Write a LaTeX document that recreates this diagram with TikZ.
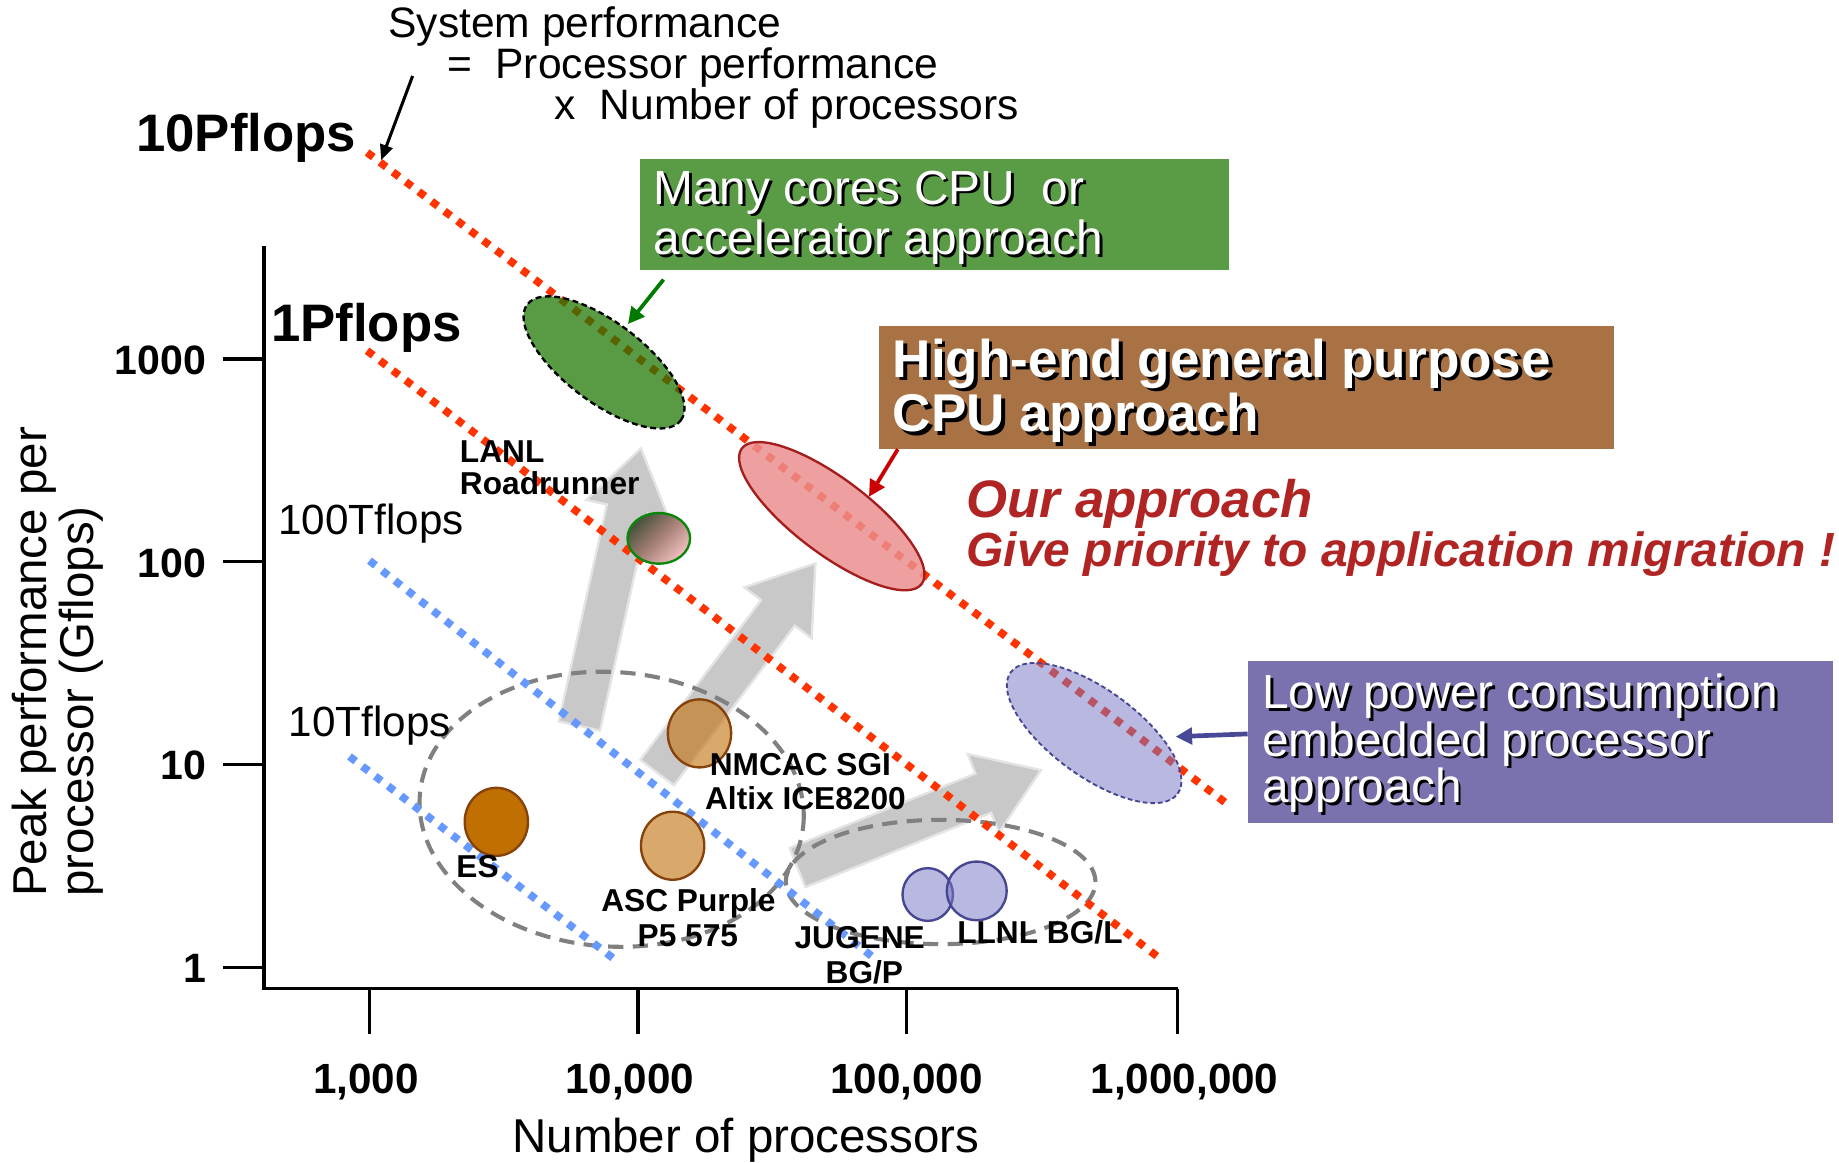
\documentclass[tikz,border=0pt]{standalone}
\usepackage{fontspec}
\setmainfont{Liberation Sans}
\usetikzlibrary{shapes.geometric,arrows.meta,calc}

\definecolor{flopred}{RGB}{255,51,0}
\definecolor{flopblue}{RGB}{102,153,255}
\definecolor{boxgreen}{RGB}{90,155,70}
\definecolor{boxbrown}{RGB}{168,114,68}
\definecolor{boxpurple}{RGB}{122,114,174}
\definecolor{ourred}{RGB}{176,36,36}
\definecolor{arrowgray}{RGB}{200,200,200}
\definecolor{arrowrim}{RGB}{228,228,228}
\definecolor{dashgray}{RGB}{128,128,128}
\definecolor{accgreen}{RGB}{28,118,0}
\definecolor{hpcpink}{RGB}{235,142,142}
\definecolor{hpcedge}{RGB}{165,30,30}
\definecolor{lowpurple}{RGB}{118,118,195}
\definecolor{lowedge}{RGB}{70,70,145}
\definecolor{esbrown}{RGB}{192,112,0}
\definecolor{tanfill}{RGB}{194,116,16}
\definecolor{rimbrown}{RGB}{135,65,10}
\definecolor{lanldark}{RGB}{70,80,58}
\definecolor{lanlmid}{RGB}{165,128,118}
\definecolor{lanlpink}{RGB}{242,192,192}
\definecolor{lanledge}{RGB}{10,135,10}
\definecolor{arrgreen}{RGB}{0,122,0}
\definecolor{arrred}{RGB}{204,0,0}
\definecolor{arrpurple}{RGB}{72,72,150}

\newcommand\fsz[1]{\fontsize{#1}{#1}\selectfont}
% white text with a dark drop shadow
\newcommand\shd[2][2.4pt]{\leavevmode\rlap{\kern#1\raisebox{-#1}{\color{black}#2}}#2}
% wide block arrow: name, start, tip
\newcommand\blockarrow[3]{%
  \coordinate (#1-neck) at ($(#3)!53pt!(#2)$);
  \path[fatarrow]
    ($(#2)!18pt!90:(#3)$) -- ($(#1-neck)!18pt!90:(#3)$) -- ($(#1-neck)!36pt!90:(#3)$)
    -- (#3)
    -- ($(#1-neck)!36pt!-90:(#3)$) -- ($(#1-neck)!18pt!-90:(#3)$) -- ($(#2)!18pt!-90:(#3)$)
    -- cycle;}

\begin{document}
\begin{tikzpicture}[x=1pt,y=-1pt,
  fatarrow/.style={fill=arrowgray, draw=arrowrim, line width=2pt},
  flopline/.style={line width=6.6pt, dash pattern=on 6.6pt off 7.2pt},
  group/.style={ellipse, draw=dashgray, line width=3.5pt, dash pattern=on 13pt off 8pt, inner sep=0pt},
  machine/.style={ellipse, inner sep=0pt, line width=2pt},
  approach/.style={ellipse, inner sep=0pt},
  axisline/.style={line width=2.8pt},
  pointer/.style={line width=3.2pt, -{Triangle[length=14pt,width=14pt]}},
  txt/.style={inner sep=0pt, anchor=base west},
  ctxt/.style={inner sep=0pt, anchor=base},
  sysname/.style={inner sep=0pt, font=\bfseries\fsz{27}},
  box/.style={inner sep=0pt, anchor=north west}]

\useasboundingbox (0,0) rectangle (1568,991);

% growth arrows
\coordinate (g1s) at (494,619);     \coordinate (g1t) at (546.5,382.3);
\coordinate (g2s) at (560.3,658.7); \coordinate (g2t) at (695.3,480.3);
\coordinate (g3s) at (680,739.7);   \coordinate (g3t) at (887.6,656.6);
\blockarrow{g1}{g1s}{g1t}
\blockarrow{g2}{g2s}{g2t}
\blockarrow{g3}{g3s}{g3t}

% machine groups
\node[group, minimum width=328pt, minimum height=234pt, rotate=-4] (grp1) at (521.5,690) {};
\node[group, minimum width=264pt, minimum height=106pt] (grp2) at (802,752) {};

% constant system performance lines
\coordinate (p10a) at (313,130);  \coordinate (p10b) at (1047,686);
\coordinate (p1a) at (313,299);   \coordinate (p1b) at (990,818);
\coordinate (t100a) at (315,478); \coordinate (t100b) at (748,819);
\coordinate (t10a) at (298,645);  \coordinate (t10b) at (528,821);
\draw[flopline, flopred] (p10a) -- (p10b);
\draw[flopline, flopred] (p1a) -- (p1b);
\draw[flopline, flopblue] (t100a) -- (t100b);
\draw[flopline, flopblue] (t10a) -- (t10b);

% approach regions
\node[approach, rotate=-37, fill=accgreen, fill opacity=0.73, draw=black, dash pattern=on 5pt off 3pt,
      line width=2pt, minimum width=164pt, minimum height=68pt] (accel) at (515,309) {};
\node[approach, rotate=-37, fill=hpcpink, fill opacity=0.84, draw=hpcedge, line width=2pt,
      minimum width=192pt, minimum height=64pt] (hpc) at (709.2,440.1) {};
\node[approach, rotate=-36, fill=lowpurple, fill opacity=0.52, draw=lowedge, dash pattern=on 4pt off 2.5pt,
      line width=1.6pt, minimum width=176pt, minimum height=74pt] (lowpow) at (932.9,625) {};

% machines
\node[machine, top color=lanldark, bottom color=lanlpink, middle color=lanlmid, shading angle=45, draw=lanledge,
      minimum width=53.4pt, minimum height=43.2pt] (lanl) at (561.7,459) {};
\node[machine, fill=tanfill, fill opacity=0.62, draw=rimbrown, minimum width=54pt, minimum height=58pt] (nmcac) at (596.4,625.3) {};
\node[machine, fill=esbrown, draw=rimbrown, minimum width=54pt, minimum height=58pt] (es) at (423.2,700.7) {};
\node[machine, fill=tanfill, fill opacity=0.62, draw=rimbrown, minimum width=54pt, minimum height=58pt] (asc) at (573.5,721.1) {};
\node[machine, fill=lowpurple, fill opacity=0.52, draw=lowedge, minimum width=43pt, minimum height=45pt] (bgp) at (791,762.7) {};
\node[machine, fill=lowpurple, fill opacity=0.52, draw=lowedge, minimum width=51pt, minimum height=50pt] (bgl) at (832.8,759.6) {};

% machine names
\node[sysname, txt] (lanl1) at (392,394) {LANL};
\node[sysname, txt] (lanl2) at (392,422) {Roadrunner};
\node[sysname, txt] (nmcac1) at (605,661) {NMCAC SGI};
\node[sysname, txt] (nmcac2) at (601,690.5) {Altix ICE8200};
\node[sysname, txt] (eslbl) at (389,748) {ES};
\node[sysname, ctxt] (asc1) at (587,777.4) {ASC Purple};
\node[sysname, ctxt] (asc2) at (586.5,807) {P5 575};
\node[sysname, ctxt] (jug1) at (733,808.6) {JUGENE};
\node[sysname, ctxt] (jug2) at (737,838.5) {BG/P};
\node[sysname, txt] (llnl) at (816,804.3) {LLNL BG/L};

% performance line labels
\node[txt, font=\bfseries\fsz{45}] (p10lbl) at (116,129.3) {10Pflops};
\node[txt, font=\bfseries\fsz{45}] (p1lbl) at (231,291) {1Pflops};
\node[txt, font=\fsz{36}] (t100lbl) at (237,456) {100Tflops};
\node[txt, font=\fsz{36}] (t10lbl) at (246,628) {10Tflops};

% formula
\node[txt, font=\fsz{36.3}] (sys1) at (331,31.8) {System performance};
\node[txt, font=\fsz{36.3}] (sys2) at (381,67) {=~~Processor performance};
\node[txt, font=\fsz{36.3}] (sys3) at (473,101.8) {x~~Number of processors};
\coordinate (systail) at (351.8,64.8);
\coordinate (systip) at (325,136.5);
\draw[line width=2.6pt, -{Triangle[length=13pt,width=11pt]}] (systail) -- (systip);

% approach boxes
\node[box, fill=boxgreen, minimum width=502.3pt, minimum height=95pt] (accbox) at (545.7,135) {};
\node[txt, text=white, font=\fsz{40.8}] (acc1) at (557,174) {\shd{Many cores CPU~~or}};
\node[txt, text=white, font=\fsz{40.8}] (acc2) at (557,217.4) {\shd{accelerator approach}};

\node[box, fill=boxbrown, minimum width=626.2pt, minimum height=104.6pt] (hpcbox) at (749.5,278) {};
\node[txt, text=white, font=\bfseries\fsz{45.3}] (hpc1) at (761,321.7) {\shd[3pt]{High-end general purpose}};
\node[txt, text=white, font=\bfseries\fsz{45.3}] (hpc2) at (761,368) {\shd[3pt]{CPU approach}};

\node[box, fill=boxpurple, minimum width=498.9pt, minimum height=137.9pt] (lowbox) at (1063.8,563.6) {};
\node[txt, text=white, font=\fsz{40.8}] (low1) at (1076,604) {\shd{Low power consumption}};
\node[txt, text=white, font=\fsz{40.8}] (low2) at (1076,644.6) {\shd{embedded processor}};
\node[txt, text=white, font=\fsz{40.8}] (low3) at (1076,684.4) {\shd{approach}};

\node[txt, text=ourred, font=\bfseries\itshape\fsz{45}] (our1) at (824,441) {Our approach};
\node[txt, text=ourred, font=\bfseries\itshape\fsz{40.9}] (our2) at (824,483.2) {Give priority to application migration !};

% pointers from boxes to regions
\coordinate (acctip) at (535.4,276.3);
\coordinate (hpctip) at (740.9,423.5);
\coordinate (lowtip) at (1002.4,628.1);
\draw[pointer, arrgreen] ([xshift=20pt,yshift=-8pt]accbox.south west) -- (acctip);
\draw[pointer, arrred] ([xshift=16pt]hpcbox.south west) -- (hpctip);
\draw[pointer, arrpurple, line width=4pt] ([yshift=7pt]lowbox.west) -- (lowtip);

% axes
\coordinate (origin) at (225,843);
\draw[axisline] (225,210) -- (origin) -- (1004,843);
\foreach \yy/\lab in {306/1000,479/100,652/10,825/1}{
  \draw[axisline] (190,\yy) -- (225,\yy);
  \node[inner sep=0pt, anchor=base east, font=\bfseries\fsz{35}] at (176,\yy+13) {\lab};
}
\foreach \xx in {315,544,773,1004}{
  \draw[axisline] (\xx,843) -- (\xx,882);
}
\node[ctxt, font=\bfseries\fsz{36}] (x1) at (312,932) {1,000};
\node[ctxt, font=\bfseries\fsz{36}] (x2) at (537,932) {10,000};
\node[ctxt, font=\bfseries\fsz{36}] (x3) at (773,932) {100,000};
\node[ctxt, font=\bfseries\fsz{36}] (x4) at (1010,932) {1,000,000};
\node[ctxt, font=\fsz{40.5}] (xtitle) at (636,983) {Number of processors};
\node[inner sep=0pt, rotate=90, anchor=base west, font=\fsz{40.5}] (ytitle1) at (40,765) {Peak performance per};
\node[inner sep=0pt, rotate=90, anchor=base west, font=\fsz{40.5}] (ytitle2) at (80,765) {processor (Gflops)};

\end{tikzpicture}
\end{document}
